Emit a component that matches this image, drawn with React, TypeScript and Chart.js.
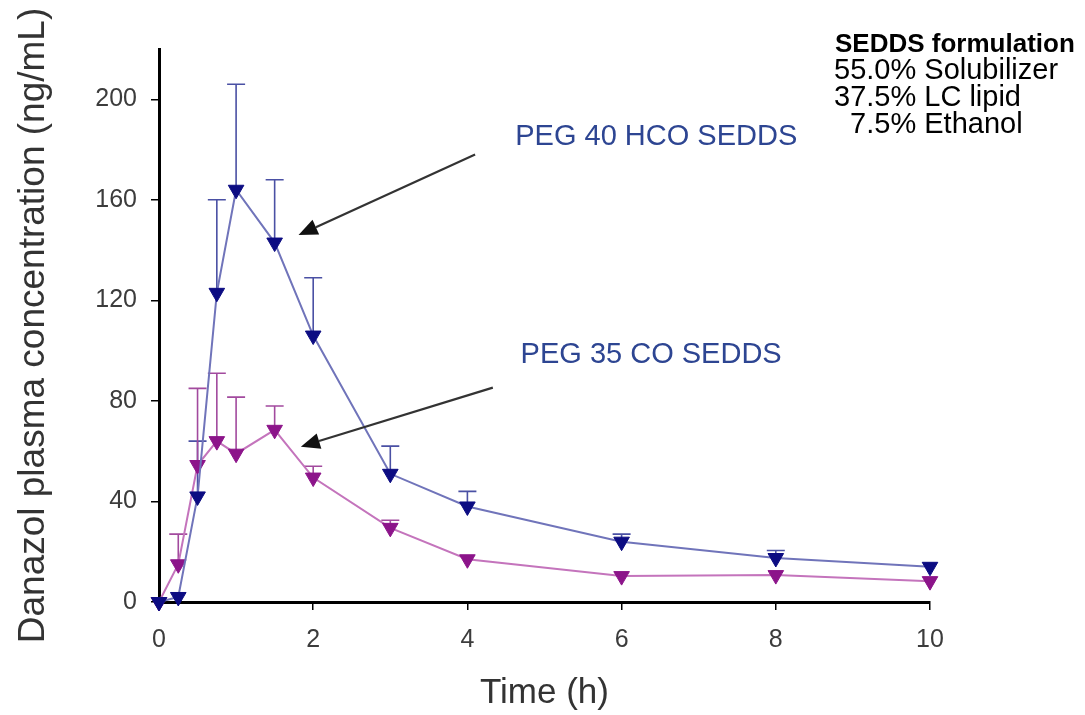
import React, { useEffect, useRef } from 'react';
import { Chart, registerables } from 'chart.js';

Chart.register(...registerables);

// ---- data ----
const timeH = [0, 0.25, 0.5, 0.75, 1, 1.5, 2, 3, 4, 6, 8, 10];
const peg40Mean = [0, 2, 42, 123, 164, 143, 106, 51, 38, 24, 17.5, 14];
const peg40SD = [0, 0, 22, 37, 42, 25, 23, 11, 6, 3, 3, 0];
const peg35Mean = [0, 15, 54.5, 64, 59, 68.5, 49.5, 29.5, 17, 10.3, 10.7, 8.3];
const peg35SD = [0, 12, 30.5, 27, 22.5, 9.5, 4.5, 3, 0, 0, 0, 0];
const yTicks = [0, 40, 80, 120, 160, 200];
const xTicks = [0, 2, 4, 6, 8, 10];

const peg40Label = 'PEG 40 HCO SEDDS';
const peg35Label = 'PEG 35 CO SEDDS';
// annotation anchors in data coordinates [x, y]
const peg40LabelPos = [4.62, 185];
const peg35LabelPos = [4.69, 98.4];
const peg40Arrow = [[4.1, 178], [1.81, 146]];
const peg35Arrow = [[4.33, 85.3], [1.84, 61.8]];

const formulationTitle = 'SEDDS formulation';
const formulationLines = ['55.0% Solubilizer', '37.5% LC lipid', '  7.5% Ethanol'];

const FONT = '"Liberation Sans", Arial, Helvetica, sans-serif';

const blueMarker = '#0c0c82';
const blueLine = '#7074ba';
const blueErr = '#4a50a4';
const pinkMarker = '#8c148a';
const pinkLine = '#c474bc';
const pinkErr = '#a24a9e';

const errorBarPlugin = {
  id: 'errorBars',
  beforeDatasetsDraw(chart: any) {
    const { ctx } = chart;
    const xs = chart.scales.x;
    const ys = chart.scales.y;
    chart.data.datasets.forEach((ds: any) => {
      const errs: number[] = ds.errors || [];
      ctx.save();
      ctx.strokeStyle = ds.errColor;
      ctx.lineWidth = 1.6;
      ds.data.forEach((p: any, i: number) => {
        const e = errs[i];
        if (!e) return;
        const px = xs.getPixelForValue(p.x);
        const y0 = ys.getPixelForValue(p.y);
        const y1 = ys.getPixelForValue(p.y + e);
        ctx.beginPath();
        ctx.moveTo(px, y0);
        ctx.lineTo(px, y1);
        ctx.moveTo(px - 9, y1);
        ctx.lineTo(px + 9, y1);
        ctx.stroke();
      });
      ctx.restore();
    });
  },
};

function drawArrow(ctx: CanvasRenderingContext2D, x0: number, y0: number, x1: number, y1: number) {
  const ang = Math.atan2(y1 - y0, x1 - x0);
  const head = 19;
  const hw = 8;
  const bx = x1 - Math.cos(ang) * head;
  const by = y1 - Math.sin(ang) * head;
  ctx.save();
  ctx.strokeStyle = '#333';
  ctx.fillStyle = '#111';
  ctx.lineWidth = 2.2;
  ctx.beginPath();
  ctx.moveTo(x0, y0);
  ctx.lineTo(bx, by);
  ctx.stroke();
  ctx.beginPath();
  ctx.moveTo(x1, y1);
  ctx.lineTo(bx + Math.sin(ang) * hw, by - Math.cos(ang) * hw);
  ctx.lineTo(bx - Math.sin(ang) * hw, by + Math.cos(ang) * hw);
  ctx.closePath();
  ctx.fill();
  ctx.restore();
}

const annotationPlugin = {
  id: 'annotations',
  afterDraw(chart: any) {
    const { ctx } = chart;
    const xs = chart.scales.x;
    const ys = chart.scales.y;
    const X = (v: number) => xs.getPixelForValue(v);
    const Y = (v: number) => ys.getPixelForValue(v);

    ctx.save();
    ctx.fillStyle = '#2d4592';
    ctx.font = `29px ${FONT}`;
    ctx.textBaseline = 'middle';
    ctx.textAlign = 'left';
    ctx.fillText(peg40Label, X(peg40LabelPos[0]), Y(peg40LabelPos[1]));
    ctx.fillText(peg35Label, X(peg35LabelPos[0]), Y(peg35LabelPos[1]));
    ctx.restore();

    drawArrow(ctx, X(peg40Arrow[0][0]), Y(peg40Arrow[0][1]), X(peg40Arrow[1][0]), Y(peg40Arrow[1][1]));
    drawArrow(ctx, X(peg35Arrow[0][0]), Y(peg35Arrow[0][1]), X(peg35Arrow[1][0]), Y(peg35Arrow[1][1]));

    ctx.save();
    ctx.fillStyle = '#000';
    ctx.textAlign = 'left';
    ctx.textBaseline = 'alphabetic';
    ctx.font = `bold 26px ${FONT}`;
    ctx.fillText(formulationTitle, 835, 52);
    ctx.font = `29px ${FONT}`;
    formulationLines.forEach((t, i) => {
      ctx.fillText(t, 834, 79 + i * 27);
    });
    ctx.restore();
  },
};

export default function App() {
  const ref = useRef<HTMLCanvasElement>(null);
  useEffect(() => {
    document.body.style.margin = '0';
    const canvas = ref.current!;
    const chart = new Chart(canvas, {
      type: 'line',
      data: {
        datasets: [
          {
            label: peg40Label,
            data: timeH.map((t, i) => ({ x: t, y: peg40Mean[i] })),
            borderColor: blueLine,
            backgroundColor: blueMarker,
            pointBackgroundColor: blueMarker,
            pointBorderColor: blueMarker,
            pointStyle: 'triangle',
            rotation: 180,
            pointRadius: 9,
            pointBorderWidth: 1,
            borderWidth: 2,
            clip: false,
            errors: peg40SD,
            errColor: blueErr,
          } as any,
          {
            label: peg35Label,
            data: timeH.map((t, i) => ({ x: t, y: peg35Mean[i] })),
            borderColor: pinkLine,
            backgroundColor: pinkMarker,
            pointBackgroundColor: pinkMarker,
            pointBorderColor: pinkMarker,
            pointStyle: 'triangle',
            rotation: 180,
            pointRadius: 9,
            pointBorderWidth: 1,
            borderWidth: 2,
            clip: false,
            errors: peg35SD,
            errColor: pinkErr,
          } as any,
        ],
      },
      options: {
        responsive: false,
        animation: false,
        layout: { padding: { top: 49, right: 155, left: 0, bottom: 0 } },
        plugins: { legend: { display: false }, tooltip: { enabled: false } },
        scales: {
          x: {
            type: 'linear',
            min: 0,
            max: 10,
            afterBuildTicks: (s: any) => {
              s.ticks = xTicks.map((v) => ({ value: v }));
            },
            afterFit: (s: any) => {
              s.height = 113;
            },
            ticks: {
              color: '#3c3c3c',
              font: { family: FONT, size: 25 },
              padding: 15,
              maxRotation: 0,
            },
            grid: { drawOnChartArea: false, drawTicks: true, tickLength: 8, color: '#000', lineWidth: 1.5 },
            border: { display: true, color: '#000', width: 3 },
            title: {
              display: true,
              text: 'Time (h)',
              color: '#333',
              font: { family: FONT, size: 35 },
              padding: { top: 0, bottom: 1 },
            },
          },
          y: {
            type: 'linear',
            min: 0,
            max: 220,
            afterBuildTicks: (s: any) => {
              s.ticks = yTicks.map((v) => ({ value: v }));
            },
            afterFit: (s: any) => {
              s.width = 159;
            },
            ticks: {
              color: '#3c3c3c',
              font: { family: FONT, size: 25 },
              padding: 14,
            },
            grid: { drawOnChartArea: false, drawTicks: true, tickLength: 8, color: '#000', lineWidth: 1.5 },
            border: { display: true, color: '#000', width: 3 },
            title: {
              display: true,
              text: 'Danazol plasma concentration (ng/mL)',
              color: '#333',
              font: { family: FONT, size: 37 },
              padding: { top: 12, bottom: 0 },
            },
          },
        },
      },
      plugins: [errorBarPlugin, annotationPlugin],
    });
    return () => chart.destroy();
  }, []);
  return <canvas ref={ref} width={1085} height={715} style={{ display: 'block' }} />;
}
